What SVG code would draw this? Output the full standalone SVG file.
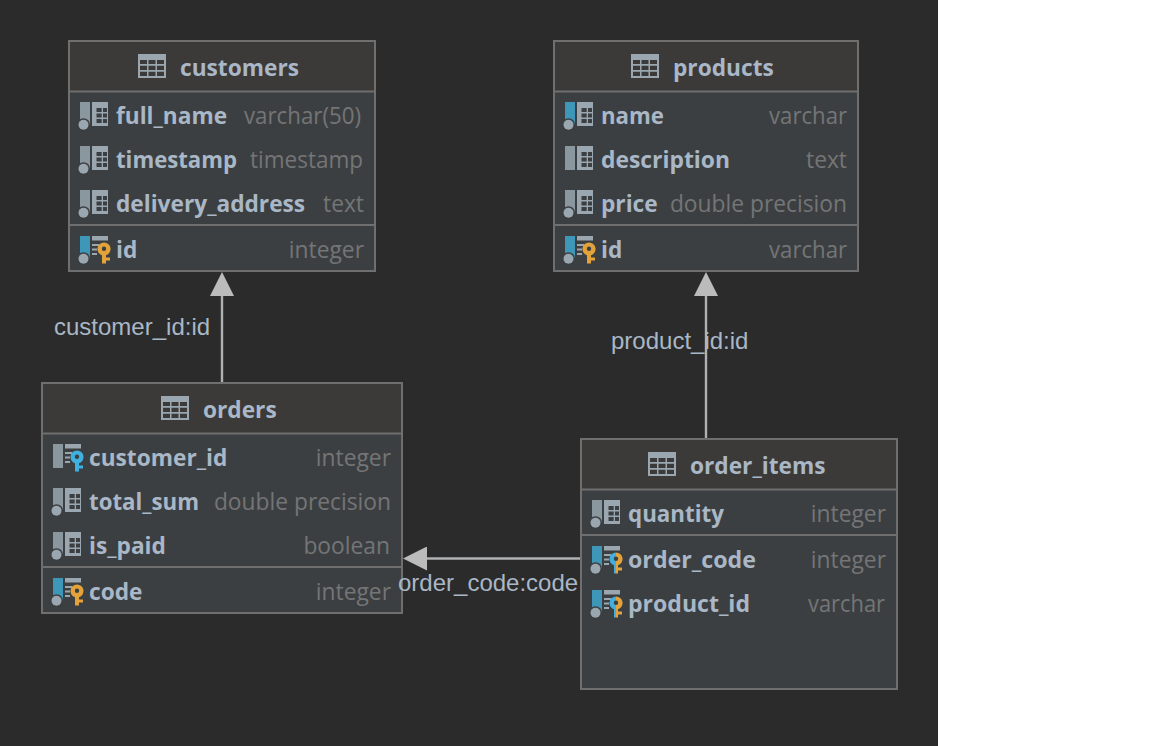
<svg xmlns="http://www.w3.org/2000/svg" xmlns:xlink="http://www.w3.org/1999/xlink" width="1152" height="746" viewBox="0 0 1152 746">
<style>
.box{fill:#3c3f41;stroke:#6f6f6f;stroke-width:2}
.hd{fill:#3b3a39}
.sep{stroke:#6f6f6f;stroke-width:2}
.t{font-family:"Open Sans","Noto Sans",sans-serif;font-weight:700;font-size:22.700px;fill:#a9b7c6}
.f{font-family:"Open Sans","Noto Sans",sans-serif;font-weight:700;font-size:22.700px;fill:#a9b7c6}
.y{font-family:"Open Sans","Noto Sans",sans-serif;font-size:22.800px;fill:#747576;text-anchor:end}
.l{font-family:"Liberation Sans",Arial,sans-serif;font-size:24px;fill:#a9b7c6}
.c{stroke:#afb1b3;stroke-width:2.400;fill:none;marker-end:url(#arr)}
</style>
<defs>
<marker id="arr" markerUnits="userSpaceOnUse" markerWidth="24" markerHeight="24" refX="0" refY="12" orient="auto"><path d="M0 0L24 12L0 24Z" fill="#bbbbbb"/></marker>
<g id="thead"><rect x="0" y="0" width="28" height="24" fill="#9aa7b0"/><path d="M2 6h7v4h-7zM10.500 6h7v4h-7zM19 6h7v4h-7zM2 11.700h7v4.300h-7zM10.500 11.700h7v4.300h-7zM19 11.700h7v4.300h-7zM2 17.700h7v4.300h-7zM10.500 17.700h7v4.300h-7zM19 17.700h7v4.300h-7z" fill="#3b3a39"/></g>
<g id="grid"><rect x="14" y="0" width="16" height="24" fill="#9aa7b0"/><path d="M18.500 6h5.200v4h-5.200zM25 6h4v4h-4zM18.500 11.500h5.200v4h-5.200zM25 11.500h4v4h-4zM18.500 17h5.200v4h-5.200zM25 17h4v4h-4z" fill="#3c3f41"/></g>
<g id="keygrid"><rect x="14" y="0" width="16" height="4.500" fill="#9aa7b0"/><path d="M14 9h7M14 13.500h5M14 18h5" stroke="#9aa7b0" stroke-width="2"/></g>
<path id="key" d="M26 6.500a6.500 6.500 0 0 1 2 12.700v2.300h4v3h-4v3h-4v-8.300a6.500 6.500 0 0 1 2-12.700zm0 4a2.200 2.200 0 1 0 0 4.400a2.200 2.200 0 1 0 0-4.400z"/>
<clipPath id="lh"><rect x="18" y="0" width="8" height="30"/></clipPath>
<clipPath id="rh"><rect x="26" y="0" width="10" height="30"/></clipPath>
<g id="dot"><circle cx="5.500" cy="22.700" r="6.500" fill="#3c3f41"/><circle cx="5.500" cy="22.700" r="5" fill="#9aa7b0"/></g>
<g id="col"><rect x="2" y="0" width="10" height="22" fill="#8a979f"/><use xlink:href="#dot"/><use xlink:href="#grid"/></g>
<g id="colplain"><rect x="2" y="0" width="10" height="24" fill="#8a979f"/><use xlink:href="#grid"/></g>
<g id="colblue"><rect x="2" y="0" width="10" height="22" fill="#3e96b8"/><use xlink:href="#dot"/><use xlink:href="#grid"/></g>
<g id="pk"><rect x="2" y="0" width="10" height="22" fill="#3e96b8"/><use xlink:href="#dot"/><use xlink:href="#keygrid"/><use xlink:href="#key" fill="#e3a33a"/></g>
<g id="fk"><rect x="2" y="0" width="10" height="24" fill="#8a979f"/><use xlink:href="#keygrid"/><use xlink:href="#key" fill="#3fb0e0"/></g>
<g id="pfk"><rect x="2" y="0" width="10" height="22" fill="#3e96b8"/><use xlink:href="#dot"/><use xlink:href="#keygrid"/><g clip-path="url(#lh)"><use xlink:href="#key" fill="#3fb0e0"/></g><g clip-path="url(#rh)"><use xlink:href="#key" fill="#e3a33a"/></g></g>
</defs>
<rect x="0" y="0" width="1152" height="746" fill="#ffffff"/>
<rect x="0" y="0" width="938" height="746" fill="#2b2b2b"/>

<g id="customers">
<rect class="box" x="69" y="41" width="306" height="230"/>
<rect class="hd" x="70" y="42" width="304" height="49"/>
<path class="sep" d="M69 91.500H375M69 225H375"/>
<use xlink:href="#thead" x="138" y="54"/>
<text class="t" x="180" y="76">customers</text>
<use xlink:href="#col" x="78" y="102"/><text class="f" x="116" y="124">full_name</text><text class="y" x="361" y="124" textLength="117" lengthAdjust="spacingAndGlyphs">varchar(50)</text>
<use xlink:href="#col" x="78" y="146"/><text class="f" x="116" y="168" textLength="121" lengthAdjust="spacingAndGlyphs">timestamp</text><text class="y" x="363" y="168" textLength="113" lengthAdjust="spacingAndGlyphs">timestamp</text>
<use xlink:href="#col" x="78" y="190"/><text class="f" x="116" y="212">delivery_address</text><text class="y" x="364" y="212">text</text>
<use xlink:href="#pk" x="78" y="236"/><text class="f" x="116" y="258">id</text><text class="y" x="364" y="258">integer</text>
</g>

<g id="products">
<rect class="box" x="554" y="41" width="304" height="230"/>
<rect class="hd" x="555" y="42" width="302" height="49"/>
<path class="sep" d="M554 91.500H858M554 225H858"/>
<use xlink:href="#thead" x="631" y="54"/>
<text class="t" x="673" y="76">products</text>
<use xlink:href="#colblue" x="563" y="102"/><text class="f" x="601" y="124" textLength="63" lengthAdjust="spacingAndGlyphs">name</text><text class="y" x="847" y="124" textLength="78" lengthAdjust="spacingAndGlyphs">varchar</text>
<use xlink:href="#colplain" x="563" y="146"/><text class="f" x="601" y="168" textLength="129" lengthAdjust="spacingAndGlyphs">description</text><text class="y" x="847" y="168">text</text>
<use xlink:href="#col" x="563" y="190"/><text class="f" x="601" y="212">price</text><text class="y" x="847" y="212">double precision</text>
<use xlink:href="#pk" x="563" y="236"/><text class="f" x="601" y="258">id</text><text class="y" x="847" y="258" textLength="78" lengthAdjust="spacingAndGlyphs">varchar</text>
</g>

<g id="orders">
<rect class="box" x="42" y="383" width="360" height="230"/>
<rect class="hd" x="43" y="384" width="358" height="49"/>
<path class="sep" d="M42 433.500H402M42 567H402"/>
<use xlink:href="#thead" x="161" y="396"/>
<text class="t" x="203" y="418">orders</text>
<use xlink:href="#fk" x="51" y="444"/><text class="f" x="89" y="466">customer_id</text><text class="y" x="391" y="466">integer</text>
<use xlink:href="#col" x="51" y="488"/><text class="f" x="89" y="510" textLength="110" lengthAdjust="spacingAndGlyphs">total_sum</text><text class="y" x="391" y="510">double precision</text>
<use xlink:href="#col" x="51" y="532"/><text class="f" x="89" y="554">is_paid</text><text class="y" x="390" y="554">boolean</text>
<use xlink:href="#pk" x="51" y="578"/><text class="f" x="89" y="600">code</text><text class="y" x="391" y="600">integer</text>
</g>

<g id="order_items">
<rect class="box" x="581" y="439" width="316" height="250"/>
<rect class="hd" x="582" y="440" width="314" height="49"/>
<path class="sep" d="M581 489.500H897M581 535H897"/>
<use xlink:href="#thead" x="648" y="452"/>
<text class="t" x="690" y="474">order_items</text>
<use xlink:href="#col" x="590" y="500"/><text class="f" x="628" y="522" textLength="96" lengthAdjust="spacingAndGlyphs">quantity</text><text class="y" x="886" y="522">integer</text>
<use xlink:href="#pfk" x="590" y="546"/><text class="f" x="628" y="568" textLength="128" lengthAdjust="spacingAndGlyphs">order_code</text><text class="y" x="886" y="568">integer</text>
<use xlink:href="#pfk" x="590" y="590"/><text class="f" x="628" y="612" textLength="122" lengthAdjust="spacingAndGlyphs">product_id</text><text class="y" x="885" y="612" textLength="77" lengthAdjust="spacingAndGlyphs">varchar</text>
</g>

<g id="connectors">
<path class="c" d="M222 382V296"/>
<path class="c" d="M706 438V296"/>
<path class="c" d="M580 558.500H427"/>
<text class="l" x="54" y="335">customer_id:id</text>
<text class="l" x="611" y="349">product_id:id</text>
<text class="l" x="398" y="591">order_code:code</text>
</g>
</svg>
